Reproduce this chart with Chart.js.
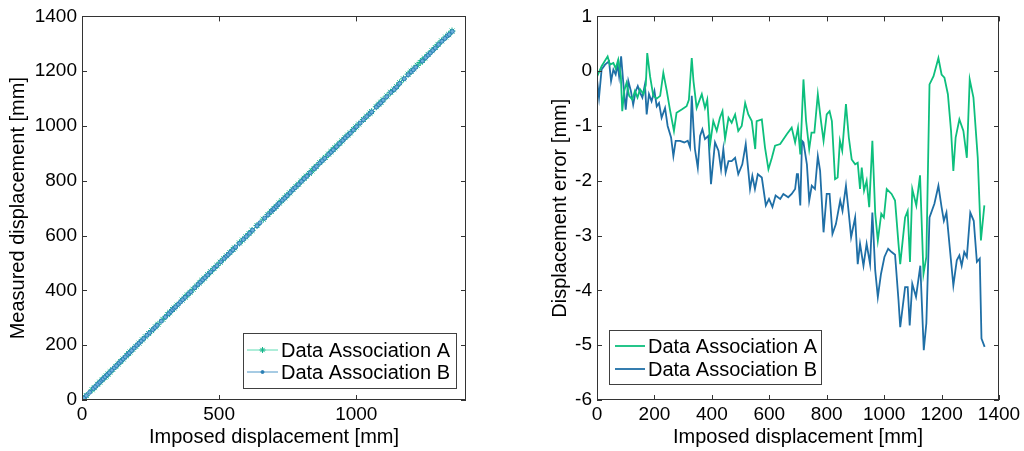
<!DOCTYPE html>
<html>
<head>
<meta charset="utf-8">
<script src="https://cdn.jsdelivr.net/npm/chart.js@4"></script>
<style>
  html, body { margin: 0; padding: 0; background: #fff; }
  .wrap { position: absolute; top: 0; width: 512px; height: 451px; }
  #left { left: 0; }
  #right { left: 512px; }
</style>
</head>
<body>
<div class="wrap" id="left"><canvas id="measured"></canvas></div>
<div class="wrap" id="right"><canvas id="error"></canvas></div>
<script>
// Imposed displacement [mm] and displacement error [mm]
const imposedA = [0, 16, 37, 45, 57, 65, 74, 83, 88, 95, 103, 112, 123, 132, 141, 150, 162, 170, 175, 185,
  196, 208, 220, 231, 243, 254, 268, 277, 295, 312, 320, 330, 336, 347, 365, 376, 384, 394, 405, 417,
  428, 437, 446, 458, 469, 481, 492, 504, 516, 527, 539, 551, 556, 574, 585, 597, 609, 620, 638, 661,
  678, 690, 700, 708, 719, 728, 739, 747, 757, 769, 780, 789, 800, 810, 818, 829, 838, 846, 854, 867,
  877, 887, 899, 908, 916, 922, 930, 939, 948, 959, 969, 978, 990, 999, 1009, 1026, 1038, 1050, 1056, 1073,
  1082, 1090, 1098, 1112, 1125, 1137, 1147, 1158, 1172, 1189, 1200, 1210, 1222, 1233, 1241, 1249, 1262, 1276, 1288, 1298,
  1311, 1326, 1337, 1349];
const errorA = [-0.1, 0.09, 0.27, 0.12, 0.15, 0.05, 0.21, -0.09, -0.73, -0.35, -0.21, -0.45, -0.52, -0.36, -0.48, -0.33, -0.42, -0.25, 0.33, -0.1,
  -0.45, -0.5, -0.45, -0.03, -0.36, -0.7, -1.09, -0.76, -0.7, -0.64, -0.52, 0.24, -0.18, -0.67, -0.42, -0.67, -0.52, -1.33, -0.91, -1.09,
  -0.85, -0.73, -1.24, -0.85, -0.94, -0.79, -1.09, -1.0, -0.58, -0.79, -0.91, -1.42, -0.91, -0.88, -1.39, -1.79, -1.58, -1.36, -1.33, -1.15,
  -1.03, -1.3, -1.03, -1.52, -0.15, -0.9, -1.42, -1.12, -1.12, -0.42, -0.91, -1.27, -0.79, -0.73, -0.91, -1.97, -1.94, -1.27, -1.45, -0.6,
  -1.21, -1.61, -1.7, -1.67, -2.15, -1.76, -2.18, -2.0, -2.48, -1.27, -2.6, -3.09, -2.6, -2.67, -2.15, -2.24, -2.36, -3.15, -3.52, -2.67,
  -2.55, -3.48, -2.15, -2.45, -1.9, -3.7, -3.39, -0.24, -0.09, 0.24, -0.06, -0.12, -0.42, -1.09, -1.82, -1.21, -0.88, -1.09, -1.58, -0.15,
  -0.48, -1.58, -3.09, -2.45];

const imposedB = [0, 7, 16, 28, 42, 49, 57, 65, 72, 77, 84, 92, 100, 109, 118, 126, 135, 142, 150, 158,
  167, 173, 181, 190, 200, 208, 216, 225, 237, 246, 258, 266, 274, 289, 304, 316, 324, 330, 336, 341,
  351, 359, 367, 376, 388, 397, 411, 423, 432, 440, 448, 458, 469, 481, 492, 506, 518, 527, 533, 541,
  550, 560, 574, 588, 599, 611, 622, 638, 649, 666, 678, 690, 696, 700, 708, 714, 719, 731, 739, 748,
  759, 769, 777, 789, 800, 810, 820, 832, 847, 855, 867, 876, 885, 899, 908, 916, 928, 939, 951, 959,
  969, 978, 989, 1001, 1014, 1026, 1038, 1050, 1056, 1073, 1082, 1089, 1098, 1111, 1126, 1138, 1147, 1158, 1175, 1189,
  1200, 1208, 1217, 1241, 1253, 1262, 1270, 1279, 1288, 1300, 1312, 1323, 1333, 1339, 1350];
const errorB = [-0.15, -0.48, 0.03, 0.12, 0.18, -0.18, 0.03, -0.06, 0.12, -0.09, 0.27, -0.24, -0.7, -0.18, -0.36, -0.61, -0.36, -0.27, -0.39, -0.48,
  -0.24, -0.79, -0.42, -0.55, -0.36, -0.64, -0.58, -0.85, -0.67, -1.0, -1.21, -1.55, -1.27, -1.27, -1.3, -1.27, -1.39, -0.45, -1.03, -1.42,
  -1.76, -1.18, -1.06, -1.24, -1.18, -2.06, -1.3, -1.45, -1.79, -1.42, -1.85, -1.64, -1.64, -1.58, -1.88, -1.7, -1.33, -1.82, -2.15, -1.91,
  -2.15, -1.88, -1.94, -2.45, -2.33, -2.48, -2.27, -2.33, -2.24, -2.3, -2.24, -2.15, -1.88, -1.88, -2.45, -1.27, -1.3, -1.7, -2.36, -2.09,
  -2.15, -1.55, -1.82, -2.94, -2.24, -2.24, -2.97, -2.79, -2.36, -2.55, -2.09, -2.55, -3.03, -2.67, -3.52, -3.15, -3.55, -3.15, -3.52, -2.58,
  -3.64, -4.12, -3.7, -3.39, -3.24, -3.3, -3.35, -4.18, -4.67, -3.94, -3.94, -4.64, -3.88, -4.12, -3.55, -5.09, -4.6, -2.67, -2.42, -2.09,
  -2.48, -2.73, -2.58, -3.91, -3.45, -3.36, -3.55, -3.3, -3.39, -2.58, -2.73, -3.48, -3.42, -4.88, -5.03];

const seriesNames = ['Data Association A', 'Data Association B'];

// tick labels
const leftXTicks = [0, 500, 1000];
const leftYTicks = [0, 200, 400, 600, 800, 1000, 1200, 1400];
const rightXTicks = [0, 200, 400, 600, 800, 1000, 1200, 1400];
const rightYTicks = [-6, -5, -4, -3, -2, -1, 0, 1];

Chart.defaults.font.family = "'Liberation Sans', Arial, sans-serif";
Chart.defaults.color = '#000';

const toPoints = (xs, ys) => xs.map((x, i) => ({ x: x, y: ys[i] }));
// measured = imposed + error
const measuredA = imposedA.map((x, i) => x + errorA[i]);
const measuredB = imposedB.map((x, i) => x + errorB[i]);

// box round the plot with MATLAB style inward ticks on all four sides
const frameTicks = {
  id: 'frameTicks',
  afterDatasetsDraw(chart) {
    const { ctx, chartArea: a, scales: { x, y } } = chart;
    ctx.save();
    ctx.strokeStyle = '#333';
    ctx.lineWidth = 1;
    ctx.strokeRect(Math.round(a.left) + 0.5, Math.round(a.top) + 0.5, Math.round(a.width) - 1, Math.round(a.height) - 1);
    ctx.beginPath();
    x.ticks.forEach(t => {
      const px = Math.round(x.getPixelForValue(t.value)) + 0.5;
      ctx.moveTo(px, a.bottom); ctx.lineTo(px, a.bottom - 5);
      ctx.moveTo(px, a.top); ctx.lineTo(px, a.top + 5);
    });
    y.ticks.forEach(t => {
      const py = Math.round(y.getPixelForValue(t.value)) + 0.5;
      ctx.moveTo(a.left, py); ctx.lineTo(a.left + 5, py);
      ctx.moveTo(a.right, py); ctx.lineTo(a.right - 5, py);
    });
    ctx.stroke();
    ctx.restore();
  }
};

// legend box inside the plot, lower corner
const boxLegend = {
  id: 'boxLegend',
  afterDraw(chart, args, opts) {
    const { ctx, chartArea: a } = chart;
    const left = opts.side === 'right' ? a.right - opts.inset - opts.width : a.left + opts.inset;
    const top = a.bottom - opts.bottomInset - opts.height;
    ctx.save();
    ctx.fillStyle = '#fff';
    ctx.fillRect(left, top, opts.width, opts.height);
    ctx.strokeStyle = '#404040';
    ctx.lineWidth = 1;
    ctx.strokeRect(Math.round(left) + 0.5, Math.round(top) + 0.5, opts.width, opts.height);
    chart.data.datasets.forEach((ds, i) => {
      const cy = top + opts.rows[i];
      ctx.strokeStyle = ds.borderColor;
      ctx.lineWidth = ds.borderWidth;
      ctx.beginPath();
      ctx.moveTo(left + opts.lineFrom, cy);
      ctx.lineTo(left + opts.lineTo, cy);
      ctx.stroke();
      if (opts.markers) {
        ctx.strokeStyle = ds.pointBorderColor;
        ctx.fillStyle = ds.pointBorderColor;
        Chart.helpers.drawPoint(ctx, {
          pointStyle: ds.pointStyle, radius: ds.legendRadius, borderWidth: 1
        }, left + (opts.lineFrom + opts.lineTo) / 2, cy);
      }
      ctx.fillStyle = '#000';
      ctx.font = "20px 'Liberation Sans', Arial, sans-serif";
      ctx.textBaseline = 'middle';
      ctx.fillText(ds.label, left + opts.textX, cy + 1);
    });
    ctx.restore();
  }
};

function axes(xMin, xMax, xTicks, yMin, yMax, yTicks, xTitle, yTitle, yWidth) {
  return {
    x: {
      type: 'linear', min: xMin, max: xMax,
      afterBuildTicks(scale) { scale.ticks = xTicks.map(v => ({ value: v })); },
      ticks: { padding: 3, font: { size: 19 }, maxRotation: 0, autoSkip: false, callback: v => String(v) },
      grid: { display: false, drawTicks: false, tickLength: 0 },
      border: { display: false },
      title: { display: true, text: xTitle, font: { size: 20 }, padding: { top: 0, bottom: 2 } },
      afterFit(scale) { scale.height = 51; }
    },
    y: {
      type: 'linear', min: yMin, max: yMax,
      afterBuildTicks(scale) { scale.ticks = yTicks.map(v => ({ value: v })); },
      ticks: { padding: 5, font: { size: 19 }, autoSkip: false, callback: v => String(v) },
      grid: { display: false, drawTicks: false, tickLength: 0 },
      border: { display: false },
      title: { display: true, text: yTitle, font: { size: 20 }, padding: { top: 6, bottom: 0 } },
      afterFit(scale) { scale.width = yWidth; }
    }
  };
}

new Chart(document.getElementById('measured'), {
  type: 'line',
  data: {
    datasets: [{
      label: seriesNames[0],
      data: toPoints(imposedA, measuredA),
      borderColor: '#5fdcb4',
      pointBorderColor: '#13b58a',
      pointBackgroundColor: '#13b58a',
      borderWidth: 1,
      pointStyle: 'star',
      pointRadius: 3.5,
      legendRadius: 3,
      pointBorderWidth: 1,
      order: 2
    }, {
      label: seriesNames[1],
      data: toPoints(imposedB, measuredB),
      borderColor: '#4f97c8',
      pointBorderColor: '#2a7fb4',
      pointBackgroundColor: '#6fb0dc',
      borderWidth: 1,
      pointStyle: 'circle',
      pointRadius: 2,
      legendRadius: 1.5,
      pointBorderWidth: 1,
      order: 1
    }]
  },
  options: {
    responsive: true,
    maintainAspectRatio: false,
    animation: false,
    layout: { padding: { left: 0, top: 16, right: 46, bottom: 0 } },
    scales: axes(0, 1400, leftXTicks, 0, 1400, leftYTicks, 'Imposed displacement [mm]', 'Measured displacement [mm]', 82),
    plugins: {
      legend: { display: false },
      tooltip: { enabled: false },
      boxLegend: {
        side: 'right', inset: 10, bottomInset: 12, width: 213, height: 55,
        rows: [17, 39], lineFrom: 4, lineTo: 35, textX: 38, markers: true
      }
    }
  },
  plugins: [frameTicks, boxLegend]
});

new Chart(document.getElementById('error'), {
  type: 'line',
  data: {
    datasets: [{
      label: seriesNames[0],
      data: toPoints(imposedA, errorA),
      borderColor: '#0dbf7d',
      borderWidth: 1.8,
      pointRadius: 0
    }, {
      label: seriesNames[1],
      data: toPoints(imposedB, errorB),
      borderColor: '#1f6fa6',
      borderWidth: 1.8,
      pointRadius: 0
    }]
  },
  options: {
    responsive: true,
    maintainAspectRatio: false,
    animation: false,
    layout: { padding: { left: 30, top: 15, right: 25, bottom: 0 } },
    scales: axes(0, 1400, rightXTicks, -6, 1, rightYTicks, 'Imposed displacement [mm]', 'Displacement error [mm]', 55),
    plugins: {
      legend: { display: false },
      tooltip: { enabled: false },
      boxLegend: {
        side: 'left', inset: 12, bottomInset: 16, width: 212, height: 54,
        rows: [16, 39], lineFrom: 6, lineTo: 36, textX: 39, markers: false
      }
    }
  },
  plugins: [frameTicks, boxLegend]
});
</script>
</body>
</html>
